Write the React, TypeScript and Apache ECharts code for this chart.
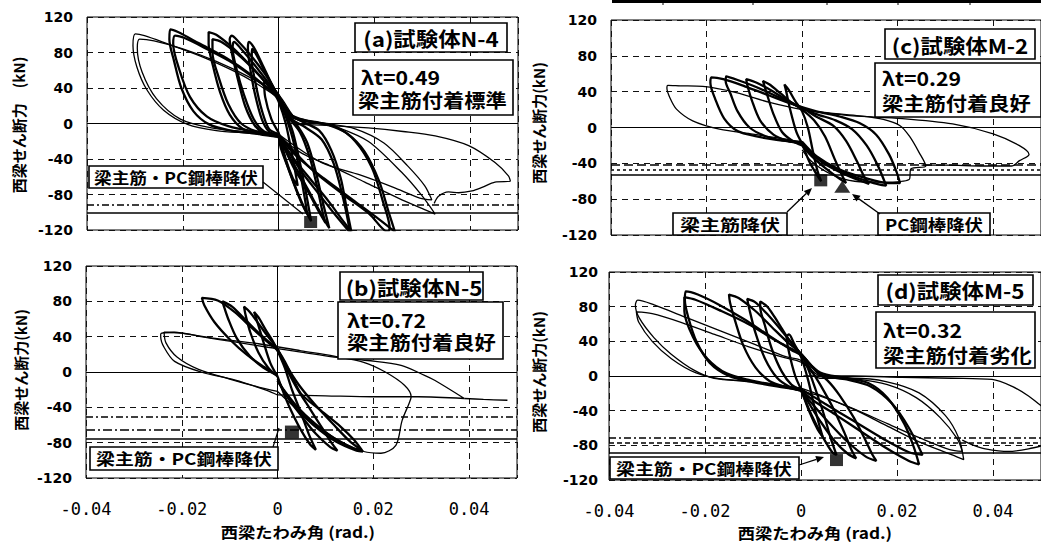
import React, { useEffect, useRef } from "react";
import * as echarts from "echarts";

type Pt = [number, number];

// ---- shared axis values ----
const xMin = -0.04;
const xMax = 0.05;
const xStep = 0.02;
const yMin = -120;
const yMax = 120;
const yStep = 40;

// ---- Panel (a) 試験体N-4 ----
const aLoopSmall: Pt[] = [[0,-10],[-0.0015,5],[-0.0028,30],[-0.003,48],[-0.002,45],[-0.001,35],[0,25],[0.0015,0],[0.003,-40],[0.004,-70],[0.003,-62],[0.0015,-40],[0,-10]];
const aLoop1: Pt[] = [[0,-14],[-0.002,-9],[-0.0035,5],[-0.005,35],[-0.006,65],[-0.0064,85],[-0.0062,92],[-0.0052,86],[-0.0035,68],[-0.0015,45],[0,30],[0.0015,12],[0.003,-10],[0.0045,-45],[0.0058,-80],[0.0068,-110],[0.0058,-100],[0.004,-78],[0.002,-50],[0.0005,-28],[0,-14]];
const aLoop1b: Pt[] = [[0,-12],[-0.002,-6],[-0.0035,15],[-0.0048,45],[-0.0056,72],[-0.0055,84],[-0.0045,76],[-0.003,60],[-0.001,40],[0,28],[0.0015,8],[0.003,-18],[0.0045,-55],[0.0055,-85],[0.006,-102],[0.005,-92],[0.0032,-68],[0.0015,-42],[0,-12]];
const aLoop2: Pt[] = [[0,-15],[-0.003,-11],[-0.005,-2],[-0.007,20],[-0.0085,50],[-0.0097,78],[-0.0102,95],[-0.0098,99],[-0.0085,93],[-0.006,78],[-0.003,57],[-0.001,40],[0,30],[0.002,10],[0.004,-3],[0.006,-22],[0.0078,-55],[0.0093,-90],[0.0106,-118],[0.0095,-108],[0.0072,-85],[0.0045,-58],[0.002,-35],[0,-15]];
const aLoop2b: Pt[] = [[0,-13],[-0.003,-9],[-0.0052,5],[-0.0072,32],[-0.0088,62],[-0.0096,85],[-0.0093,92],[-0.0078,84],[-0.005,66],[-0.002,45],[0,32],[0.002,8],[0.0045,-10],[0.0065,-38],[0.008,-70],[0.0092,-100],[0.0098,-112],[0.0085,-100],[0.006,-75],[0.003,-48],[0,-13]];
const aLoop3: Pt[] = [[0,-15],[-0.004,-12],[-0.0075,-6],[-0.0102,10],[-0.0122,35],[-0.0137,65],[-0.0146,90],[-0.0146,103],[-0.013,100],[-0.0095,85],[-0.006,66],[-0.003,48],[0,30],[0.002,12],[0.005,2],[0.0085,-8],[0.011,-30],[0.013,-62],[0.0142,-95],[0.0152,-122],[0.0135,-110],[0.0105,-88],[0.007,-65],[0.0035,-42],[0,-15]];
const aLoop3b: Pt[] = [[0,-13],[-0.004,-10],[-0.0078,0],[-0.0105,22],[-0.0125,52],[-0.0138,80],[-0.0138,95],[-0.012,92],[-0.0085,78],[-0.005,60],[-0.002,42],[0,32],[0.002,8],[0.0055,-4],[0.009,-18],[0.0115,-45],[0.0133,-80],[0.0145,-110],[0.0148,-122],[0.012,-104],[0.0085,-80],[0.0045,-52],[0,-13]];
const aLoop4: Pt[] = [[0,-14],[-0.005,-11],[-0.01,-8],[-0.0145,-1],[-0.0178,14],[-0.0203,40],[-0.0218,70],[-0.0228,95],[-0.0226,106],[-0.021,103],[-0.0165,90],[-0.011,74],[-0.006,56],[-0.002,38],[0,28],[0.0025,10],[0.006,3],[0.0105,-2],[0.0145,-12],[0.018,-32],[0.021,-65],[0.023,-100],[0.0243,-122],[0.021,-108],[0.0155,-86],[0.0095,-62],[0.004,-38],[0,-14]];
const aLoop4b: Pt[] = [[0,-12],[-0.005,-9],[-0.0105,-3],[-0.015,8],[-0.0185,30],[-0.0208,62],[-0.022,90],[-0.0216,99],[-0.0195,96],[-0.015,84],[-0.0095,68],[-0.004,47],[0,30],[0.003,8],[0.007,2],[0.012,-4],[0.016,-20],[0.0195,-50],[0.0218,-88],[0.0232,-118],[0.0228,-122],[0.019,-102],[0.0135,-80],[0.007,-52],[0,-12]];
const aLoop5: Pt[] = [[0,-14],[-0.006,-11],[-0.013,-8],[-0.019,-1],[-0.024,15],[-0.0275,38],[-0.0296,64],[-0.0304,88],[-0.0299,101],[-0.028,99],[-0.0233,90],[-0.0163,76],[-0.0093,59],[-0.0037,42],[0,28],[0.003,6],[0.008,2],[0.0117,-3],[0.0187,-20],[0.0257,-55],[0.0299,-81],[0.0327,-102],[0.0305,-97],[0.025,-84],[0.018,-66],[0.011,-48],[0.005,-34],[0,-14]];
const aLoop5b: Pt[] = [[0,-12],[-0.007,-9],[-0.014,-5],[-0.0205,5],[-0.0255,28],[-0.0285,58],[-0.0295,85],[-0.029,95],[-0.026,93],[-0.02,84],[-0.013,70],[-0.006,52],[0,32],[0.004,4],[0.01,0],[0.016,-6],[0.022,-22],[0.027,-48],[0.0305,-70],[0.032,-86],[0.0295,-84],[0.024,-72],[0.017,-58],[0.009,-44],[0,-12]];
const aFinal: Pt[] = [[0.003,-1],[0.01,-2],[0.0187,-5],[0.026,-9],[0.0327,-14],[0.0397,-25],[0.0452,-44],[0.048,-59],[0.0484,-65],[0.0452,-66],[0.0425,-72],[0.0404,-76],[0.0376,-78],[0.0355,-77],[0.0334,-82],[0.0325,-90]];
const aThick = [aLoopSmall, aLoop1, aLoop1b, aLoop2, aLoop2b, aLoop3, aLoop3b, aLoop4, aLoop4b];
const aThin = [aLoop5, aLoop5b, aFinal];
const aYieldSquare: Pt[] = [[0.0067, -111]];
const aRefDashDot = -92;
const aRefSolid = -101;

// ---- Panel (c) 試験体M-2 ----
const cLoop1: Pt[] = [[0,-18],[-0.0012,-5],[-0.0025,20],[-0.0034,42],[-0.0037,48],[-0.0028,42],[-0.0015,30],[0,18],[0.0012,0],[0.0022,-25],[0.0032,-48],[0.004,-60],[0.003,-52],[0.0015,-38],[0,-18]];
const cLoop2: Pt[] = [[0,-20],[-0.002,-15],[-0.0042,-5],[-0.006,15],[-0.0074,38],[-0.0082,52],[-0.0068,48],[-0.0045,38],[-0.002,27],[0,20],[0.0025,8],[0.0048,-10],[0.0068,-35],[0.0085,-55],[0.0092,-62],[0.0075,-56],[0.005,-46],[0.002,-32],[0,-20]];
const cLoop3: Pt[] = [[0,-18],[-0.003,-15],[-0.006,-8],[-0.0088,8],[-0.0105,30],[-0.0115,48],[-0.0117,54],[-0.0095,50],[-0.006,40],[-0.003,30],[0,22],[0.003,12],[0.0065,2],[0.0092,-15],[0.0115,-38],[0.013,-55],[0.014,-63],[0.0115,-58],[0.008,-50],[0.004,-38],[0,-18]];
const cLoop4: Pt[] = [[0,-17],[-0.0035,-15],[-0.0075,-10],[-0.011,0],[-0.0135,18],[-0.015,38],[-0.016,52],[-0.0159,57],[-0.0135,53],[-0.0095,45],[-0.005,34],[-0.001,24],[0.003,15],[0.007,8],[0.0105,-2],[0.0135,-20],[0.0158,-42],[0.0176,-65],[0.015,-62],[0.011,-55],[0.0065,-44],[0.002,-30],[0,-17]];
const cLoop5: Pt[] = [[0,-16],[-0.005,-14],[-0.0095,-10],[-0.0135,-4],[-0.0163,10],[-0.0182,32],[-0.0192,50],[-0.019,56],[-0.0165,54],[-0.012,46],[-0.007,36],[-0.002,26],[0.003,18],[0.008,12],[0.012,5],[0.0155,-8],[0.0182,-30],[0.0198,-50],[0.0205,-62],[0.018,-62],[0.013,-56],[0.0075,-46],[0.003,-32],[0,-16]];
const cLoop6: Pt[] = [[0,-16.7],[-0.0033,-13],[-0.0103,-7.4],[-0.0173,-1.9],[-0.0229,7.4],[-0.0263,20.5],[-0.0277,33.5],[-0.0283,44],[-0.0281,47],[-0.0255,46.5],[-0.0208,45.8],[-0.0138,39],[-0.0068,28],[0,20],[0.006,16],[0.012,13],[0.017,9],[0.0205,2],[0.0225,-10],[0.0245,-28],[0.0259,-43],[0.0228,-46],[0.0224,-58],[0.017,-61],[0.011,-60],[0.006,-52],[0.002,-38],[0,-25]];
const cFinal: Pt[] = [[0,20],[0.005,16],[0.0106,13],[0.021,10],[0.0315,4],[0.04,-7],[0.0454,-20],[0.0475,-30],[0.0455,-37],[0.0438,-43],[0.038,-43],[0.03,-42],[0.025,-42]];
const cThick = [cLoop1, cLoop2, cLoop3, cLoop4, cLoop5];
const cThin = [cLoop6, cFinal];
const cYieldSquare: Pt[] = [[0.0039, -59]];
const cYieldTriangle: Pt[] = [[0.0084, -66]];
const cRefDashed = -42;
const cRefDotted = -47;
const cRefSolid = -53;

// ---- Panel (b) 試験体N-5 ----
const bLoop1: Pt[] = [[0,-5],[-0.0015,10],[-0.003,35],[-0.0043,58],[-0.0049,68],[-0.004,62],[-0.0025,48],[-0.001,35],[0,24],[0.0015,5],[0.003,-20],[0.0048,-45],[0.0065,-70],[0.008,-88],[0.0068,-82],[0.0048,-65],[0.0025,-40],[0.001,-20],[0,-5]];
const bLoop2: Pt[] = [[0,-5],[-0.002,5],[-0.004,22],[-0.0057,45],[-0.0067,65],[-0.007,74],[-0.0058,68],[-0.004,55],[-0.002,40],[0,26],[0.0015,8],[0.004,-18],[0.0068,-42],[0.0095,-65],[0.0115,-82],[0.0125,-89],[0.011,-85],[0.008,-70],[0.005,-50],[0.002,-28],[0,-8]];
const bLoop3: Pt[] = [[0,-4],[-0.003,5],[-0.0058,18],[-0.0085,38],[-0.0103,60],[-0.0113,76],[-0.0115,80],[-0.0095,74],[-0.0065,58],[-0.0035,42],[0,25],[0.0015,10],[0.0045,-15],[0.008,-38],[0.0118,-60],[0.015,-78],[0.0174,-88],[0.016,-87],[0.0118,-75],[0.0077,-58],[0.0042,-40],[0.0014,-21],[0,-10]];
const bLoop4: Pt[] = [[0,-4],[-0.0028,5.7],[-0.0063,19],[-0.0098,36],[-0.0132,56.6],[-0.0153,75.5],[-0.0158,84],[-0.0125,81],[-0.009,68],[-0.0056,51],[-0.0021,34],[0,24.5],[0.0014,13],[0.0028,-2],[0.0049,-24.5],[0.009,-43.4],[0.0132,-62],[0.016,-77],[0.0178,-90],[0.0165,-89],[0.012,-78],[0.0075,-60],[0.004,-42],[0.0014,-22],[0,-10]];
const bLoop5: Pt[] = [[0,-26],[-0.0021,-21],[-0.009,-9],[-0.016,0],[-0.0215,12],[-0.0237,28],[-0.0244,40],[-0.0244,43],[-0.0216,45],[-0.016,40],[-0.009,34],[-0.002,28],[0.0049,22.6],[0.0118,17],[0.0188,13],[0.0258,7.5],[0.0307,-3.8],[0.0328,-9.4],[0.039,-30],[0.0293,-28],[0.02,-28],[0.01,-27],[0,-26]];
const bLoop6: Pt[] = [[0,-22],[-0.004,-17],[-0.01,-8],[-0.0165,3],[-0.021,17],[-0.0233,33],[-0.0237,45],[-0.02,44],[-0.013,38],[-0.004,32],[0.0049,24],[0.0118,18],[0.018,11],[0.0225,0],[0.0265,-15],[0.0279,-28],[0.0275,-35],[0.026,-55],[0.0247,-83],[0.0216,-92],[0.018,-90],[0.013,-78],[0.008,-60],[0.004,-42],[0,-22]];
const bFinal: Pt[] = [[0.039,-30],[0.043,-31],[0.048,-32]];
const bThick = [bLoop1, bLoop2, bLoop3, bLoop4];
const bThin = [bLoop5, bLoop6, bFinal];
const bYieldSquare: Pt[] = [[0.003, -68]];
const bRefDashDot1 = -51;
const bRefDashDot2 = -65;
const bRefSolid = -75;

// ---- Panel (d) 試験体M-5 ----
const dLoop6: Pt[] = [[0,-15],[-0.0012,0],[-0.0024,25],[-0.003,45],[-0.0025,48],[-0.0015,38],[0,22],[0.0015,-5],[0.003,-40],[0.0045,-70],[0.0035,-62],[0.0018,-42],[0,-15]];
const dLoop5: Pt[] = [[0,-16],[-0.002,-10],[-0.004,5],[-0.006,30],[-0.0075,58],[-0.0085,80],[-0.0085,86],[-0.007,80],[-0.0048,62],[-0.0025,42],[0,25],[0.0015,8],[0.003,-15],[0.0048,-45],[0.0062,-72],[0.0074,-91],[0.0065,-88],[0.0045,-70],[0.0022,-45],[0,-16]];
const dLoop4: Pt[] = [[0,-17],[-0.0025,-12],[-0.005,-2],[-0.0075,20],[-0.0095,50],[-0.0108,78],[-0.0112,89],[-0.0095,85],[-0.0068,70],[-0.004,52],[-0.0015,35],[0,25],[0.002,8],[0.004,-10],[0.0065,-35],[0.009,-65],[0.0105,-85],[0.0115,-95],[0.0098,-90],[0.007,-75],[0.004,-52],[0.0015,-30],[0,-17]];
const dLoop3: Pt[] = [[0,-17],[-0.003,-13],[-0.0065,-6],[-0.0095,10],[-0.012,35],[-0.0138,65],[-0.0148,85],[-0.015,94],[-0.013,90],[-0.0095,75],[-0.006,56],[-0.003,40],[0,26],[0.003,6],[0.0055,-5],[0.008,-22],[0.011,-48],[0.0135,-75],[0.0148,-90],[0.0157,-98],[0.0135,-93],[0.0095,-75],[0.0055,-52],[0.002,-30],[0,-17]];
const dLoop2: Pt[] = [[0,-16],[-0.005,-12],[-0.01,-7],[-0.015,0],[-0.019,15],[-0.0218,40],[-0.0235,68],[-0.0242,88],[-0.024,97.7],[-0.0215,94],[-0.017,82],[-0.012,66],[-0.0065,46],[-0.002,30],[0,24],[0.004,4],[0.009,-2],[0.014,-8],[0.018,-25],[0.0215,-55],[0.0235,-82],[0.0246,-102],[0.0225,-98],[0.018,-84],[0.0125,-64],[0.007,-44],[0.0025,-28],[0,-16]];
const dLoop2b: Pt[] = [[0,-15],[-0.005,-11],[-0.0105,-5],[-0.0155,3],[-0.0195,20],[-0.0225,45],[-0.0243,75],[-0.0243,91],[-0.022,88],[-0.017,76],[-0.011,60],[-0.005,40],[0,25],[0.004,2],[0.0095,-4],[0.0145,-12],[0.019,-32],[0.0225,-60],[0.0253,-91],[0.0225,-88],[0.017,-72],[0.011,-52],[0.005,-32],[0,-15]];
const dLoop1: Pt[] = [[0,-15.8],[-0.0099,-6.4],[-0.0181,-2.6],[-0.0223,6.8],[-0.0271,25.5],[-0.0306,44],[-0.0337,67],[-0.0345,82],[-0.034,87.5],[-0.0306,82],[-0.0237,67],[-0.0168,52],[-0.0099,37],[-0.003,22],[0,18],[0.0039,-2.6],[0.0108,-2.6],[0.0177,-6.4],[0.0246,-19.5],[0.0301,-45.8],[0.0329,-72],[0.0339,-96.5],[0.0315,-91],[0.0246,-76],[0.0177,-57],[0.0108,-38],[0.0039,-23],[0,-17.7]];
const dLoop1b: Pt[] = [[0,-14],[-0.008,-8],[-0.016,-4],[-0.022,4],[-0.027,20],[-0.031,40],[-0.0338,62],[-0.0343,74],[-0.031,72],[-0.025,62],[-0.018,48],[-0.011,34],[-0.004,22],[0,16],[0.004,0],[0.011,-3],[0.018,-10],[0.024,-25],[0.029,-48],[0.0325,-72],[0.0336,-87],[0.031,-85],[0.025,-72],[0.018,-55],[0.011,-38],[0.004,-22],[0,-14]];
const dFinal: Pt[] = [[0.0005,0],[0.0108,0],[0.021,-1.5],[0.0315,-2.6],[0.0398,-4],[0.044,-12],[0.0474,-23],[0.0497,-33],[0.052,-42]];
const dFinal2: Pt[] = [[0.0336,-74],[0.036,-80],[0.0384,-84],[0.0432,-87],[0.0474,-84],[0.052,-78]];
const dThick = [dLoop6, dLoop5, dLoop4, dLoop3, dLoop2, dLoop2b];
const dThin = [dLoop1, dLoop1b, dFinal, dFinal2];
const dYieldSquare: Pt[] = [[0.0074, -97]];
const dRefDashDot = -71;
const dRefDashed = -77;
const dRefSolid = -88;

// ---- texts ----
const yName = "西梁せん断力(kN)";
const yNameA = "西梁せん断力\u3000(kN)";
const xName = "西梁たわみ角 (rad.)";
const titles = ["(a)試験体N-4", "(c)試験体M-2", "(b)試験体N-5", "(d)試験体M-5"];
const lambdas = ["λt=0.49", "λt=0.29", "λt=0.72", "λt=0.32"];
const bonds = ["梁主筋付着標準", "梁主筋付着良好", "梁主筋付着良好", "梁主筋付着劣化"];
const yieldBoth = "梁主筋・PC鋼棒降伏";
const yieldBar = "梁主筋降伏";
const yieldPC = "PC鋼棒降伏";

const DASH: number[] = [6, 5];
const DASHDOT: number[] = [7, 3, 2, 3];
const DOTTED: number[] = [3, 3];
const LONGDASH: number[] = [9, 4];

function refLine(y: number, type: any) {
  return { yAxis: y, lineStyle: { type, width: 1.5, color: "#000" } };
}

export default function App() {
  const ref = useRef<HTMLDivElement>(null);
  useEffect(() => {
    if (!ref.current) return;
    const chart = echarts.init(ref.current, undefined, { renderer: "svg" });

    const grids = [
      { left: 87, top: 17, width: 431, height: 213 },
      { left: 611, top: 20, width: 431, height: 215 },
      { left: 86, top: 266, width: 431, height: 212 },
      { left: 609, top: 272, width: 432, height: 208 },
    ].map((g) => ({ ...g, show: true, borderColor: "#000", borderWidth: 1, backgroundColor: "transparent" }));

    const showX = [false, false, true, true];
    const xAxis = grids.map((_, i) => ({
      type: "value",
      gridIndex: i,
      min: xMin,
      max: xMax,
      interval: xStep,
      axisLine: { show: false },
      axisTick: { show: false },
      axisLabel: {
        show: showX[i],
        showMaxLabel: false,
        color: "#000",
        fontFamily: "DejaVu Sans Mono",
        fontSize: 17,
        margin: 22,
        formatter: (v: number) => (Math.abs(v) < 1e-9 ? "0" : v.toFixed(2)),
      },
      splitLine: { show: true, lineStyle: { color: "#111", width: 1, type: DASH } },
    }));
    const yAxis = grids.map((_, i) => ({
      type: "value",
      gridIndex: i,
      min: yMin,
      max: yMax,
      interval: yStep,
      axisLine: { show: false },
      axisTick: { show: false },
      axisLabel: {
        color: "#000",
        fontFamily: "DejaVu Sans",
        fontWeight: "bold",
        fontSize: 14,
        margin: i === 3 ? 11 : 14,
      },
      splitLine: { show: true, lineStyle: { color: "#111", width: 1, type: DASH } },
    }));

    const loopSeries = (g: number, loops: Pt[][], width: number) =>
      loops.map((d) => ({
        type: "line",
        xAxisIndex: g,
        yAxisIndex: g,
        data: d,
        symbol: "none",
        showSymbol: false,
        smooth: 0.3,
        clip: true,
        silent: true,
        z: 3,
        lineStyle: { color: "#000", width },
      }));

    const markerSeries = (g: number, pts: Pt[], symbol: string, size: number[], lines: any[]) => ({
      type: "scatter",
      xAxisIndex: g,
      yAxisIndex: g,
      data: pts,
      symbol,
      symbolSize: size,
      itemStyle: { color: "#000" },
      silent: true,
      z: 5,
      markLine: {
        silent: true,
        symbol: ["none", "none"],
        label: { show: false },
        animation: false,
        z: 2,
        data: lines,
      },
    });

    const zeroSolid = { yAxis: 0, lineStyle: { type: "solid", width: 1, color: "#000" } };
    const zeroSolidX = { xAxis: 0, lineStyle: { type: "solid", width: 1, color: "#000" } };

    const series: any[] = [
      ...loopSeries(0, aThick, 2.3),
      ...loopSeries(0, aThin, 1.3),
      markerSeries(0, aYieldSquare, "rect", [13, 12], [zeroSolid, zeroSolidX, refLine(aRefDashDot, DASHDOT), refLine(aRefSolid, "solid")]),
      ...loopSeries(1, cThick, 2.3),
      ...loopSeries(1, cThin, 1.3),
      markerSeries(1, cYieldSquare, "rect", [13, 12], [zeroSolid, refLine(cRefDashed, LONGDASH), refLine(cRefDotted, DOTTED), refLine(cRefSolid, "solid")]),
      {
        type: "scatter", xAxisIndex: 1, yAxisIndex: 1, data: cYieldTriangle, symbol: "triangle",
        symbolSize: [16, 12], itemStyle: { color: "#000" }, silent: true, z: 5,
      },
      ...loopSeries(2, bThick, 2.3),
      ...loopSeries(2, bThin, 1.3),
      markerSeries(2, bYieldSquare, "rect", [14, 13], [zeroSolid, zeroSolidX, refLine(bRefDashDot1, DASHDOT), refLine(bRefDashDot2, [9, 3, 2, 3]), refLine(bRefSolid, "solid")]),
      ...loopSeries(3, dThick, 2.3),
      ...loopSeries(3, dThin, 1.3),
      markerSeries(3, dYieldSquare, "rect", [13, 12], [zeroSolid, refLine(dRefDashDot, DASHDOT), refLine(dRefDashed, [5, 3]), refLine(dRefSolid, "solid")]),
    ];

    const cjk = "'Noto Sans CJK JP', sans-serif";
    const box = (x: number, y: number, w: number, h: number) => ({
      type: "rect", z: 100, shape: { x, y, width: w, height: h },
      style: { fill: "#fff", stroke: "#000", lineWidth: 1.6 },
    });
    const txt = (t: string, x: number, y: number, size: number, align: string, sx: number, weight = "bold") => ({
      type: "text", z: 101, x, y, scaleX: sx,
      style: {
        text: t, x: 0, y: 0, fill: "#000",
        font: `${weight} ${size}px ${cjk}`,
        align, verticalAlign: "middle", textAlign: align, textVerticalAlign: "middle",
      },
    });
    const vtxt = (t: string, x: number, y: number) => ({
      type: "text", z: 101, x, y, rotation: Math.PI / 2,
      style: {
        text: t, x: 0, y: 0, fill: "#000", font: `bold 15px ${cjk}`,
        align: "center", verticalAlign: "middle", textAlign: "center", textVerticalAlign: "middle",
      },
    });
    const seg = (x1: number, y1: number, x2: number, y2: number, w: number) => ({
      type: "line", z: 101, shape: { x1, y1, x2, y2 }, style: { stroke: "#000", lineWidth: w },
    });
    const arrow = (x1: number, y1: number, x2: number, y2: number) => {
      const ang = Math.atan2(y2 - y1, x2 - x1);
      const L = 8, W = 3.5;
      const bx = x2 - L * Math.cos(ang), by = y2 - L * Math.sin(ang);
      const px = -Math.sin(ang) * W, py = Math.cos(ang) * W;
      return [
        seg(x1, y1, bx, by, 1.3),
        { type: "polygon", z: 101, shape: { points: [[x2, y2], [bx + px, by + py], [bx - px, by - py]] }, style: { fill: "#000" } },
      ];
    };

    const graphic: any[] = [
      // top strip (table border fragment)
      seg(612, 1.5, 1041, 1.5, 3),
      ...[663, 753, 827, 898, 970].map((x) => seg(x, 0, x, 5, 1)),
      // axis names
      vtxt(yNameA, 18, 125),
      vtxt(yName, 538, 123),
      vtxt(yName, 20, 370),
      vtxt(yName, 538, 372),
      txt(xName, 298, 532, 15, "center", 1.15),
      txt(xName, 815, 533, 15, "center", 1.15),
      // panel a
      box(355, 23, 152, 29), txt(titles[0], 431, 38, 20, "center", 1.12),
      box(353, 60, 160, 55), txt(lambdas[0], 361, 77, 19, "left", 1.12), txt(bonds[0], 358, 100, 19, "left", 1.12),
      box(89, 166, 174, 22), txt(yieldBoth, 176, 177, 16, "center", 1.1),
      seg(263, 182, 303, 214, 1.2),
      // panel c
      box(885, 29, 150, 30), txt(titles[1], 960, 45, 20, "center", 1.12),
      box(875, 63, 166, 54), txt(lambdas[1], 882, 78, 19, "left", 1.12), txt(bonds[1], 882, 103, 19, "left", 1.12),
      box(673, 213, 114, 22), txt(yieldBar, 730, 224, 16, "center", 1.25),
      box(878, 213, 112, 22), txt(yieldPC, 934, 224, 16, "center", 1.15),
      ...arrow(787, 212, 812, 188),
      ...arrow(880, 214, 852, 194),
      // panel b
      box(340, 272, 143, 28), txt(titles[2], 414, 287, 20, "center", 1.12),
      box(338, 302, 165, 57), txt(lambdas[2], 347, 320, 19, "left", 1.12), txt(bonds[2], 347, 342, 19, "left", 1.12),
      box(90, 447, 188, 23), txt(yieldBoth, 184, 458, 16, "center", 1.18),
      seg(273, 447, 279, 428, 1.2),
      // panel d
      box(878, 275, 155, 30), txt(titles[3], 955, 290, 20, "center", 1.12),
      box(876, 312, 159, 56), txt(lambdas[3], 883, 330, 19, "left", 1.12), txt(bonds[3], 883, 355, 19, "left", 1.12),
      box(610, 457, 189, 22), txt(yieldBoth, 704, 468, 16, "center", 1.18),
      ...arrow(799, 465, 824, 457),
    ];

    chart.setOption({
      animation: false,
      backgroundColor: "#fff",
      grid: grids,
      xAxis,
      yAxis,
      series,
      graphic,
    });
    return () => chart.dispose();
  }, []);
  return (
    <div
      ref={ref}
      style={{ position: "fixed", left: 0, top: 0, width: 1041, height: 545, background: "#fff" }}
    />
  );
}
